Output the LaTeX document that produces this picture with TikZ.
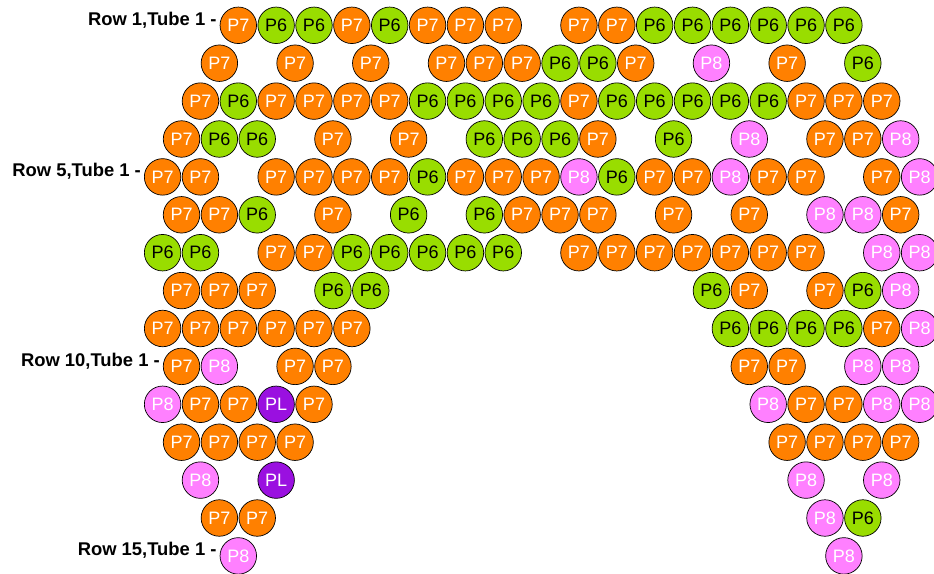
\documentclass[tikz,border=0pt]{standalone}
\usepackage{fontspec}
\setmainfont{Liberation Sans}
\usepackage{etoolbox}
\usetikzlibrary{positioning}
\definecolor{porange}{RGB}{255,128,0}
\definecolor{pgreen}{RGB}{153,221,0}
\definecolor{ppink}{RGB}{255,128,255}
\definecolor{ppurple}{RGB}{154,16,224}

\begin{document}
\begin{tikzpicture}[x=1pt, y=1pt,
  ball/.style={draw, circle, line width=0.7pt, minimum size=36.5pt, inner sep=0pt,
    font=\fontsize{18}{18}\selectfont},
  P7/.style={ball, fill=porange, text=white},
  P6/.style={ball, fill=pgreen, text=black},
  P8/.style={ball, fill=ppink, text=white},
  PL/.style={ball, fill=ppurple, text=white},
  rowlabel/.style={anchor=base east, inner sep=0pt, font=\fontsize{18.4}{18.4}\bfseries}]
\useasboundingbox (0,0) rectangle (934,-573);
% row / first half-step / tubes (-- = no tube)
\foreach \r/\c/\items in {
  1/0/{P7,P6,P6,P7,P6,P7,P7,P7,--,P7,P7,P6,P6,P6,P6,P6,P6},
  2/-1/{P7,--,P7,--,P7,--,P7,P7,P7,P6,P6,P7,--,P8,--,P7,--,P6},
  3/-2/{P7,P6,P7,P7,P7,P7,P6,P6,P6,P6,P7,P6,P6,P6,P6,P6,P7,P7,P7},
  4/-3/{P7,P6,P6,--,P7,--,P7,--,P6,P6,P6,P7,--,P6,--,P8,--,P7,P7,P8},
  5/-4/{P7,P7,--,P7,P7,P7,P7,P6,P7,P7,P7,P8,P6,P7,P7,P8,P7,P7,--,P7,P8},
  6/-3/{P7,P7,P6,--,P7,--,P6,--,P6,P7,P7,P7,--,P7,--,P7,--,P8,P8,P7},
  7/-4/{P6,P6,--,P7,P7,P6,P6,P6,P6,P6,--,P7,P7,P7,P7,P7,P7,P7,--,P8,P8},
  8/-3/{P7,P7,P7,--,P6,P6,--,--,--,--,--,--,--,--,P6,P7,--,P7,P6,P8},
  9/-4/{P7,P7,P7,P7,P7,P7,--,--,--,--,--,--,--,--,--,P6,P6,P6,P6,P7,P8},
  10/-3/{P7,P8,--,P7,P7,--,--,--,--,--,--,--,--,--,--,P7,P7,--,P8,P8},
  11/-4/{P8,P7,P7,PL,P7,--,--,--,--,--,--,--,--,--,--,--,P8,P7,P7,P8,P8},
  12/-3/{P7,P7,P7,P7,--,--,--,--,--,--,--,--,--,--,--,--,P7,P7,P7,P7},
  13/-2/{P8,--,PL,--,--,--,--,--,--,--,--,--,--,--,--,--,P8,--,P8},
  14/-1/{P7,P7,--,--,--,--,--,--,--,--,--,--,--,--,--,--,P8,P6},
  15/0/{P8,--,--,--,--,--,--,--,--,--,--,--,--,--,--,--,P8}}{
  \foreach \t [count=\k from 0] in \items {
    \ifdefstring{\t}{--}{}{%
      \node[\t] (r\r-\k) at ({238.3+18.925*(\c+2*\k)}, {-25.3-37.9*(\r-1)}) {\t};}
  }
}
\node[rowlabel] (lab1) at ([xshift=-3pt]r1-0.west) {Row 1,Tube 1 -};
\node[rowlabel] (lab5) at ([xshift=-3pt]r5-0.west) {Row 5,Tube 1 -};
\node[rowlabel] (lab10) at ([xshift=-3pt]r10-0.west) {Row 10,Tube 1 -};
\node[rowlabel] (lab15) at ([xshift=-3pt]r15-0.west) {Row 15,Tube 1 -};
\end{tikzpicture}
\end{document}
